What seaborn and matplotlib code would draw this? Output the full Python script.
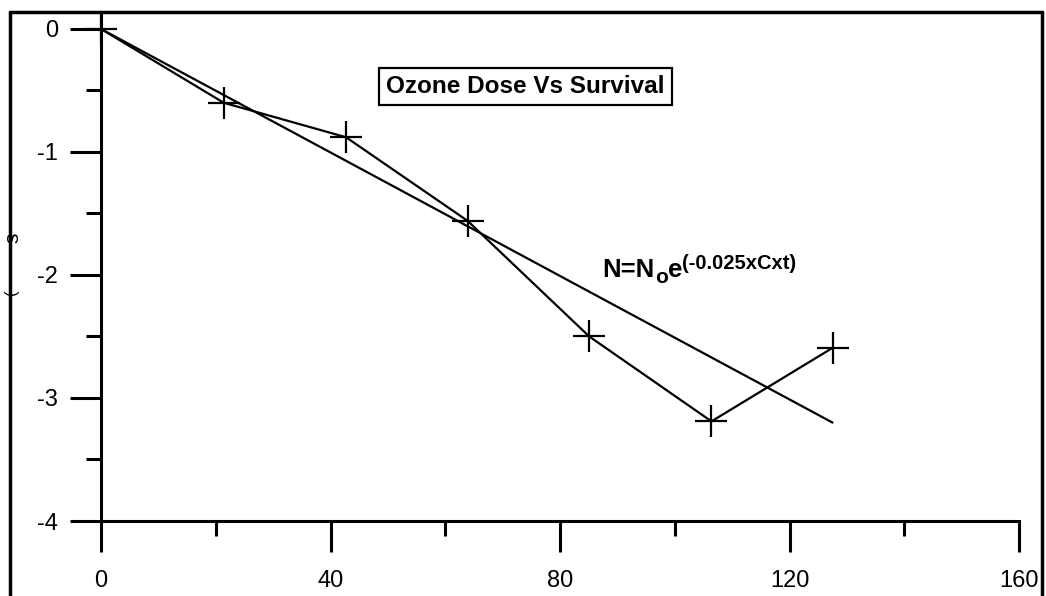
import numpy as np
import pandas as pd
import matplotlib
matplotlib.use("Agg")
import matplotlib.pyplot as plt
import seaborn as sns
from matplotlib.lines import Line2D
from matplotlib.ticker import MultipleLocator

# dados
dose = [0, 21.4, 42.7, 63.9, 85.1, 106.4, 127.6]
survival = [0, -0.6, -0.88, -1.56, -2.5, -3.19, -2.59]

# reta ajustada N = No e^(-0.025 x Cxt)
fit_dose = [0, 127.5]
fit_survival = [0, -3.2]

x_ticks = [0, 40, 80, 120, 160]
y_ticks = [0, -1, -2, -3, -4]

df = pd.DataFrame({"dose": dose, "survival": survival})
df_fit = pd.DataFrame({"dose": fit_dose, "survival": fit_survival})

sns.set_style("ticks")
plt.rcParams["font.family"] = ["Liberation Sans", "DejaVu Sans"]
plt.rcParams["axes.unicode_minus"] = False
plt.rcParams["text.color"] = "black"

W, H = 1046, 596
fig = plt.figure(figsize=(W / 100, H / 100), dpi=100)
ax = fig.add_axes([101 / W, 1 - 521 / H, 918 / W, (521 - 12) / H])

sns.lineplot(data=df, x="dose", y="survival", color="black", lw=1.6,
             marker="+", markersize=23, markeredgewidth=1.6,
             markeredgecolor="black", ax=ax, clip_on=False)
sns.lineplot(data=df_fit, x="dose", y="survival", color="black", lw=1.6, ax=ax)

ax.set_xlim(0, 160)
ax.set_ylim(-4, 0.138)
ax.set_xticks(x_ticks)
ax.set_yticks(y_ticks)
ax.set_xticklabels([str(v) for v in x_ticks])
ax.set_yticklabels([str(v) for v in y_ticks])
ax.xaxis.set_minor_locator(MultipleLocator(20))
ax.yaxis.set_minor_locator(MultipleLocator(0.5))
ax.set_xlabel("")
ax.set_ylabel("")

for s in ["top", "right"]:
    ax.spines[s].set_visible(False)
for s in ["left", "bottom"]:
    ax.spines[s].set_linewidth(2.2)
    ax.spines[s].set_color("black")

ax.tick_params(axis="both", which="major", length=22, width=2.2, labelsize=17,
               color="black", labelcolor="black")
ax.tick_params(axis="both", which="minor", length=11, width=2.2, color="black")
ax.tick_params(axis="y", which="major", pad=9)
ax.tick_params(axis="x", which="major", pad=13)

# titulo com caixa
ax.text((525.5 - 101) / 918, (521 - 86.5) / 509, "Ozone Dose Vs Survival",
        transform=ax.transAxes, ha="center", va="center", fontsize=17.5,
        fontweight="bold", color="black",
        bbox=dict(boxstyle="square,pad=0.3", fc="white", ec="black", lw=1.6))

# equacao N=No e^(-0.025xCxt), montada por partes
t1 = ax.text(87.4, -2.02, "N=N", ha="left", va="baseline", fontsize=18.5,
             fontweight="bold", color="black")
t2 = ax.annotate("o", xy=(1, 0), xycoords=t1, xytext=(0, -5),
                 textcoords="offset pixels", ha="left", va="bottom",
                 fontsize=15, fontweight="bold", color="black")
t3 = ax.annotate("e", xy=(1, 0), xycoords=t2, xytext=(0, 5),
                 textcoords="offset pixels", ha="left", va="bottom",
                 fontsize=18.5, fontweight="bold", color="black")
ax.annotate("(-0.025xCxt)", xy=(1, 0), xycoords=t3, xytext=(0, 9),
            textcoords="offset pixels", ha="left", va="bottom",
            fontsize=14.5, fontweight="bold", color="black")

# moldura externa
fx = lambda p: p / W
fy = lambda p: 1 - p / H
for xs, ys in [([fx(10), fx(10)], [0, fy(12)]),
               ([fx(10), fx(1042)], [fy(12), fy(12)]),
               ([fx(1042), fx(1042)], [fy(12), 0])]:
    fig.add_artist(Line2D(xs, ys, transform=fig.transFigure, color="black", lw=2.5))

# restos do rotulo do eixo y junto a moldura
for txt, ypix, xpix, fs in [("s", 238, 22, 15), ("(", 292, 19, 12)]:
    fig.text(fx(xpix), fy(ypix), txt, rotation=90, ha="right", va="center",
             fontsize=fs, color="black")

fig.savefig("out.png", dpi=100)
